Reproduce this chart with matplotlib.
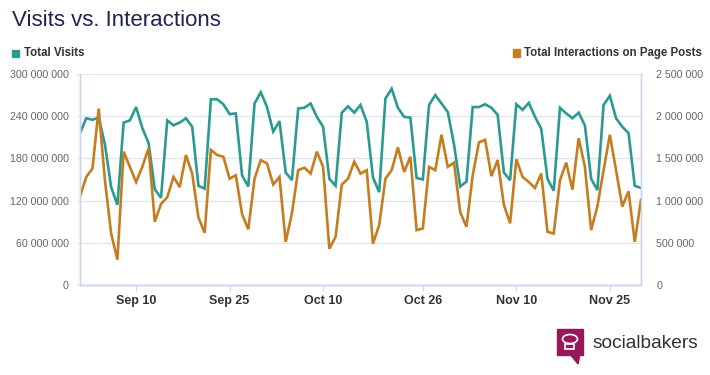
import numpy as np
import pandas as pd
import matplotlib
matplotlib.use('Agg')
import matplotlib.pyplot as plt
from matplotlib.patches import Rectangle, Polygon, Ellipse

plt.rcParams['font.family'] = ['Liberation Sans', 'DejaVu Sans']

# ---- data (daily, Sep 1 - Nov 30) ----
dates = pd.date_range('2014-09-01', '2014-11-30', freq='D')
visits_m = [216, 237, 235, 238, 200, 139, 114, 231, 234, 253, 223, 202, 136, 124,
            234, 227, 231, 237, 225, 141, 137, 264, 264, 257, 243, 244, 156, 140,
            258, 274, 253, 218, 233, 160, 149, 251, 252, 258, 239, 225, 151, 141,
            245, 254, 245, 256, 232, 153, 132, 265, 279, 252, 239, 238, 152, 150,
            256, 270, 258, 246, 200, 140, 147, 253, 253, 257, 252, 242, 160, 149,
            257, 249, 259, 239, 222, 151, 134, 252, 244, 237, 245, 227, 151, 135,
            256, 269, 237, 225, 216, 141, 138]
interactions_m = [1.05, 1.28, 1.38, 2.09, 1.24, 0.61, 0.30, 1.58, 1.40, 1.22, 1.40, 1.62, 0.75, 0.96,
                  1.04, 1.28, 1.16, 1.54, 1.32, 0.80, 0.62, 1.60, 1.54, 1.52, 1.26, 1.30, 0.84, 0.66,
                  1.26, 1.48, 1.44, 1.19, 1.28, 0.51, 0.85, 1.36, 1.39, 1.32, 1.58, 1.40, 0.43, 0.57,
                  1.19, 1.26, 1.46, 1.32, 1.36, 0.49, 0.71, 1.26, 1.36, 1.63, 1.34, 1.52, 0.65, 0.67,
                  1.40, 1.36, 1.78, 1.40, 1.45, 0.86, 0.69, 1.30, 1.69, 1.72, 1.29, 1.48, 0.95, 0.73,
                  1.49, 1.28, 1.22, 1.15, 1.32, 0.63, 0.61, 1.24, 1.45, 1.13, 1.74, 1.40, 0.65, 0.93,
                  1.36, 1.78, 1.36, 0.93, 1.11, 0.51, 1.01]
visits = np.array(visits_m) * 1e6
interactions = np.array(interactions_m) * 1e6

tick_dates = pd.to_datetime(['2014-09-10', '2014-09-25', '2014-10-10',
                             '2014-10-26', '2014-11-10', '2014-11-25'])
tick_labels = ['Sep 10', 'Sep 25', 'Oct 10', 'Oct 26', 'Nov 10', 'Nov 25']
left_ticks = [0, 60e6, 120e6, 180e6, 240e6, 300e6]
right_ticks = [0, 500e3, 1000e3, 1500e3, 2000e3, 2500e3]

TEAL = '#2c9a92'
ORANGE = '#c47d1f'
GRID = '#e4e6ef'
AXC = '#ccd6eb'

def spaced(v):
    return f'{int(v):,}'.replace(',', ' ')

fig = plt.figure(figsize=(7.1, 3.75), dpi=100)
ax = fig.add_axes([80/710, 1-285/375, (641-80)/710, (285-74)/375])
ax2 = ax.twinx()

ax.plot(dates, visits, color=TEAL, lw=1.9, solid_joinstyle='miter')
ax2.plot(dates, interactions, color=ORANGE, lw=1.9, solid_joinstyle='miter')

ax.set_xlim(dates[0], dates[-1])
ax.set_ylim(0, 300e6)
ax2.set_ylim(0, 2.5e6)

ax.set_yticks(left_ticks)
ax.set_yticklabels([spaced(v) for v in left_ticks])
ax2.set_yticks(right_ticks)
ax2.set_yticklabels([spaced(v) for v in right_ticks])
ax.set_xticks(tick_dates)
ax.set_xticklabels(tick_labels, fontweight='bold')

ax.grid(axis='y', color=GRID, lw=1)
ax.set_axisbelow(True)
for a in (ax, ax2):
    a.spines['top'].set_visible(False)
    for s in ('left', 'right', 'bottom'):
        a.spines[s].set_color(AXC)
        a.spines[s].set_linewidth(1)
ax.tick_params(axis='y', length=3, color=GRID, labelsize=7.7, labelcolor='#666666', pad=5)
ax2.tick_params(axis='y', length=0, labelsize=7.7, labelcolor='#666666', pad=11)
ax.tick_params(axis='x', length=4, color=AXC, labelsize=9, labelcolor='#333333', pad=3)

# title and legend
fig.text(12/710, 1-20/375, 'Visits vs. Interactions', fontsize=16, color='#1f2450',
         ha='left', va='center')
fig.patches.append(Rectangle((12/710, 1-57/375), 7/710, 7/375, transform=fig.transFigure,
                             color=TEAL, figure=fig))
fig.text(24/710, 1-53/375, 'Total Visits', fontsize=8.3, fontweight='bold',
         color='#333333', ha='left', va='center')
fig.patches.append(Rectangle((513/710, 1-56.5/375), 7/710, 7/375, transform=fig.transFigure,
                             color=ORANGE, figure=fig))
fig.text(524/710, 1-53/375, 'Total Interactions on Page Posts', fontsize=8.3,
         fontweight='bold', color='#333333', ha='left', va='center')

# socialbakers logo
PURPLE = '#97185a'
fig.patches.append(Rectangle((557/710, 1-355/375), 26/710, 26/375, transform=fig.transFigure,
                             color=PURPLE, figure=fig))
fig.patches.append(Polygon([(570/710, 1-354/375), (580/710, 1-354/375), (578/710, 1-364/375)],
                           closed=True, transform=fig.transFigure, color=PURPLE, figure=fig))
fig.patches.append(Ellipse((570/710, 1-339/375), 15/710, 9/375, transform=fig.transFigure,
                           fill=False, ec='white', lw=1.2, figure=fig))
fig.patches.append(Rectangle((565/710, 1-349/375), 9/710, 5/375, transform=fig.transFigure,
                             fill=False, ec='white', lw=1.2, figure=fig))
fig.text(593/710, 1-343/375, 'socialbakers', fontsize=13.8, color='#333333',
         ha='left', va='center')

fig.savefig('out.png', dpi=100)
